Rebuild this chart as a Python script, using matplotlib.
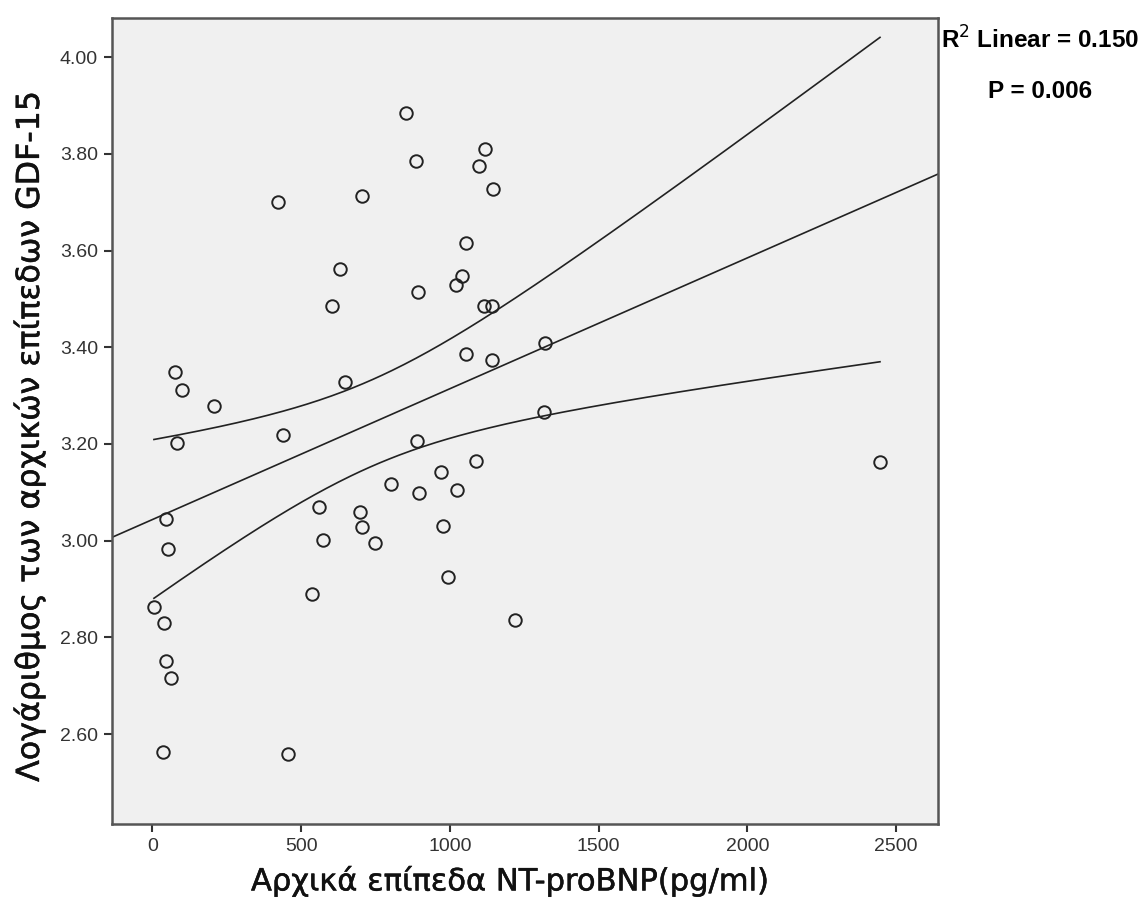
import numpy as np
import matplotlib
matplotlib.use('Agg')
import matplotlib.pyplot as plt
import matplotlib.patheffects as pe

# Αρχικά επίπεδα NT-proBNP (pg/ml) και log GDF-15, διαβασμένα από την εικόνα
ntprobnp = [853, 1118, 886, 1098, 1145, 422, 704, 1054, 631, 1041,
            1021, 893, 604, 1115, 1142, 648, 1054, 1142, 1320, 1317,
            439, 889, 1088, 971, 803, 896, 1024, 560, 698, 705,
            573, 748, 977, 994, 537, 76, 99, 207, 82, 45,
            52, 5, 39, 45, 62, 35, 455, 2446, 1219]
log_gdf15 = [3.884, 3.810, 3.785, 3.775, 3.727, 3.700, 3.713, 3.615, 3.562, 3.547,
             3.529, 3.514, 3.485, 3.485, 3.485, 3.328, 3.386, 3.373, 3.409, 3.266,
             3.218, 3.206, 3.165, 3.142, 3.117, 3.098, 3.105, 3.069, 3.059, 3.028,
             3.001, 2.995, 3.030, 2.925, 2.890, 3.349, 3.311, 3.278, 3.202, 3.045,
             2.983, 2.863, 2.830, 2.751, 2.716, 2.563, 2.559, 3.163, 2.836]

x_ticks = [0, 500, 1000, 1500, 2000, 2500]
y_ticks = [2.60, 2.80, 3.00, 3.20, 3.40, 3.60, 3.80, 4.00]
xlim = (-136, 2641)
ylim = (2.414, 4.081)

x = np.array(ntprobnp, dtype=float)
y = np.array(log_gdf15, dtype=float)

# γραμμική παλινδρόμηση και 95% CI του μέσου
b, a = np.polyfit(x, y, 1)
n = len(x)
resid = y - (a + b * x)
s = np.sqrt(np.sum(resid ** 2) / (n - 2))
sxx = np.sum((x - x.mean()) ** 2)
t = 2.012

xs = np.linspace(x.min(), x.max(), 300)
fit_ci = a + b * xs
hw = t * s * np.sqrt(1 / n + (xs - x.mean()) ** 2 / sxx)
xfull = np.linspace(xlim[0], xlim[1], 10)

plt.rcParams['font.family'] = ['Liberation Sans', 'DejaVu Sans']

fig = plt.figure(figsize=(11.47, 9.10), dpi=100)
ax = fig.add_axes([112 / 1147, 1 - 824 / 910, (938 - 112) / 1147, (824 - 18) / 910])
ax.set_facecolor('#f0f0f0')

ax.plot(xfull, a + b * xfull, color='#222222', lw=1.2)
ax.plot(xs, fit_ci + hw, color='#222222', lw=1.2)
ax.plot(xs, fit_ci - hw, color='#222222', lw=1.2)
ax.plot(x, y, 'o', ms=9, mfc='none', mec='#222222', mew=1.4)

ax.set_xlim(*xlim)
ax.set_ylim(*ylim)
ax.set_xticks(x_ticks)
ax.set_yticks(y_ticks)
ax.set_yticklabels(['%.2f' % v for v in y_ticks])
ax.tick_params(direction='out', length=6, width=1.5, colors='#333333',
               labelsize=14, labelcolor='#333333', pad=4)
for sp in ax.spines.values():
    sp.set_color('#555555')
    sp.set_linewidth(1.8)

thick = [pe.withStroke(linewidth=0.35, foreground='#111111')]
lab_font = dict(family='DejaVu Sans', color='#111111', path_effects=thick)
ax.set_xlabel('Αρχικά επίπεδα NT-proBNP(pg/ml)', fontsize=22, **lab_font)
ax.set_ylabel('Λογάριθμος των αρχικών επίπεδων GDF-15', fontsize=22.8, **lab_font)
ax.xaxis.set_label_coords(0.481, -0.052)
ax.yaxis.set_label_coords(-0.08, 0.48)

fig.text(1040 / 1147, 1 - 40 / 910, r'R$^{2}$ Linear = 0.150', ha='center', va='center',
         fontsize=17.5, fontweight='bold')
fig.text(1040 / 1147, 1 - 92 / 910, 'P = 0.006', ha='center', va='center',
         fontsize=17.5, fontweight='bold')

fig.savefig('out.png', dpi=100)
